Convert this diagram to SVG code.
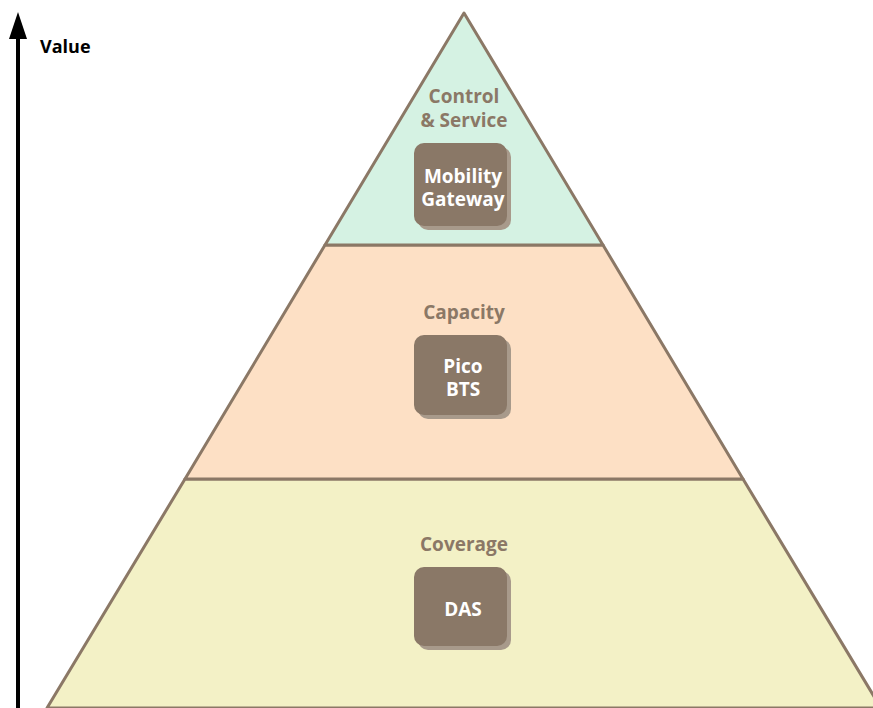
<svg xmlns="http://www.w3.org/2000/svg" width="873" height="708" viewBox="0 0 873 708">
<defs>
<style>
.band{stroke:#8b7866;stroke-width:3;stroke-linejoin:round}
.lbl{font-family:"Open Sans","Noto Sans","DejaVu Sans",sans-serif;font-weight:bold;font-size:19px;fill:#8b7866;text-anchor:middle}
.box{fill:#8a7867}
.sh{fill:#a89a8b}
.bt{font-family:"Open Sans","Noto Sans","DejaVu Sans",sans-serif;font-weight:bold;font-size:19px;fill:#ffffff;text-anchor:middle}
</style>
<marker id="ah" markerWidth="5" markerHeight="7" refX="0" refY="3.5" orient="auto" markerUnits="strokeWidth">
<path d="M0,0 L5,3.5 L0,7 Z" fill="#000"/>
</marker>
</defs>
<rect width="873" height="708" fill="#ffffff"/>
<g id="bands">
<polygon class="band" points="47,708 185,479 743,479 881,708" fill="#f3f1c6"/>
<polygon class="band" points="185,479 325,245 603,245 743,479" fill="#fde0c5"/>
<polygon class="band" points="325,245 464,13 603,245" fill="#d5f2e3"/>
</g>
<g id="connectors">
<line x1="18" y1="708" x2="18" y2="38" stroke="#000" stroke-width="4"/>
<polygon points="18,12 27,39 9,39" fill="#000"/>
</g>
<g id="axis-label"><text x="40" y="53" font-family="Open Sans,Noto Sans,sans-serif" font-weight="bold" font-size="18" fill="#000">Value</text></g>
<g id="layer-control">
<text class="lbl" x="464" y="103">Control</text>
<text class="lbl" x="464" y="127">&amp; Service</text>
</g>
<g id="node-mobility">
<rect class="sh" x="418" y="147" width="93" height="83" rx="10"/>
<rect class="box" x="414" y="143" width="93" height="83" rx="10"/>
<text class="bt" x="463" y="183">Mobility</text>
<text class="bt" x="463" y="206">Gateway</text>
</g>
<g id="layer-capacity"><text class="lbl" x="464" y="319">Capacity</text></g>
<g id="node-pico">
<rect class="sh" x="418" y="339" width="93" height="80" rx="10"/>
<rect class="box" x="414" y="335" width="93" height="80" rx="10"/>
<text class="bt" x="463" y="373">Pico</text>
<text class="bt" x="463" y="396">BTS</text>
</g>
<g id="layer-coverage"><text class="lbl" x="464" y="551">Coverage</text></g>
<g id="node-das">
<rect class="sh" x="418" y="571" width="93" height="79" rx="10"/>
<rect class="box" x="414" y="567" width="93" height="79" rx="10"/>
<text class="bt" x="463" y="616">DAS</text>
</g>
</svg>
